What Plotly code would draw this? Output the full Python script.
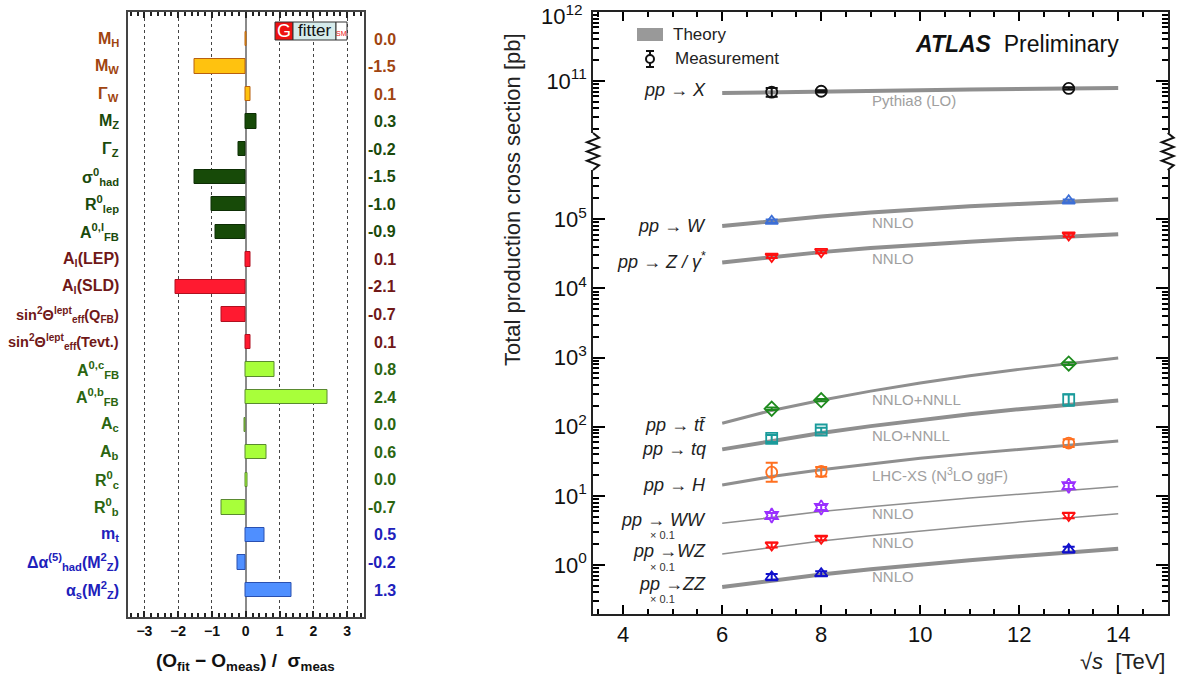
import plotly.graph_objects as go

FIG_W, FIG_H = 1188, 677


def PX(x):
    return x / FIG_W


def PY(y):
    return 1 - y / FIG_H


# ---------------- Left panel: Gfitter pull plot ----------------
observables = [
    "M<sub>H</sub>", "M<sub>W</sub>", "Γ<sub>W</sub>", "M<sub>Z</sub>", "Γ<sub>Z</sub>",
    "σ<sup>0</sup><sub>had</sub>", "R<sup>0</sup><sub>lep</sub>", "A<sup>0,l</sup><sub>FB</sub>",
    "A<sub>l</sub>(LEP)", "A<sub>l</sub>(SLD)",
    "sin<sup>2</sup>Θ<sup>lept</sup><sub>eff</sub>(Q<sub>FB</sub>)",
    "sin<sup>2</sup>Θ<sup>lept</sup><sub>eff</sub>(Tevt.)",
    "A<sup>0,c</sup><sub>FB</sub>", "A<sup>0,b</sup><sub>FB</sub>",
    "A<sub>c</sub>", "A<sub>b</sub>", "R<sup>0</sup><sub>c</sub>", "R<sup>0</sup><sub>b</sub>",
    "m<sub>t</sub>", "Δα<sup>(5)</sup><sub>had</sub>(M<sup>2</sup><sub>Z</sub>)",
    "α<sub>s</sub>(M<sup>2</sup><sub>Z</sub>)",
]
pulls = [0.01, -1.52, 0.15, 0.32, -0.22, -1.51, -1.0, -0.91, 0.15, -2.09, -0.72, 0.15,
         0.84, 2.41, -0.05, 0.6, 0.04, -0.72, 0.55, -0.25, 1.34]
pull_labels = ["0.0", "-1.5", "0.1", "0.3", "-0.2", "-1.5", "-1.0", "-0.9", "0.1", "-2.1",
               "-0.7", "0.1", "0.8", "2.4", "0.0", "0.6", "0.0", "-0.7", "0.5", "-0.2", "1.3"]
obs_group = [0, 0, 0, 1, 1, 1, 1, 1, 2, 2, 2, 2, 3, 3, 3, 3, 3, 3, 4, 4, 4]
group_text_color = ["#a04410", "#1a4a0b", "#701818", "#2b6510", "#2020bb"]
group_bar_fill = ["#ffc20f", "#174a08", "#ff1a30", "#a8ff3a", "#4f8fff"]
group_bar_edge = ["#b86010", "#0d2e05", "#b01020", "#5a8a30", "#2a50b0"]

# ---------------- Right panel: ATLAS cross sections ----------------
sqrt_s_theory = [6, 7, 8, 9, 10, 11, 12, 13, 14]
theory = {
    "X": [6.7e10, 6.9e10, 7.05e10, 7.2e10, 7.35e10, 7.5e10, 7.65e10, 7.8e10, 7.9e10],
    "W": [8.0e4, 9.5e4, 1.10e5, 1.25e5, 1.40e5, 1.54e5, 1.67e5, 1.81e5, 1.94e5],
    "Z": [2.38e4, 2.86e4, 3.35e4, 3.83e4, 4.30e4, 4.75e4, 5.20e4, 5.64e4, 6.07e4],
    "tt": [112, 172, 242, 327, 429, 545, 675, 820, 986],
    "tq": [47, 62.7, 81, 102, 126, 151, 179, 208, 239],
    "H": [14.4, 19.0, 23.9, 29.2, 34.9, 40.8, 47.1, 54.1, 62.0],
    "WW": [4.0, 4.92, 5.92, 6.95, 8.07, 9.27, 10.57, 12.0, 13.6],
    "WZ": [1.44, 1.81, 2.22, 2.65, 3.11, 3.61, 4.17, 4.80, 5.50],
    "ZZ": [0.48, 0.60, 0.73, 0.87, 1.02, 1.17, 1.34, 1.52, 1.72],
}
theory_width = {"X": 4, "W": 4, "Z": 4, "tt": 3, "tq": 4, "H": 3, "WW": 1.5, "WZ": 1.5, "ZZ": 4}

meas_sqrt_s = {
    "X": [7, 8, 13], "W": [7, 13], "Z": [7, 8, 13], "tt": [7, 8, 13], "tq": [7, 8, 13],
    "H": [7, 8, 13], "WW": [7, 8, 13], "WZ": [7, 8, 13], "ZZ": [7, 8, 13],
}
meas_value = {
    "X": [6.9e10, 7.1e10, 7.8e10],
    "W": [9.4e4, 1.85e5],
    "Z": [2.9e4, 3.4e4, 5.9e4],
    "tt": [182, 242, 818],
    "tq": [68, 89.6, 247],
    "H": [22, 22.5, 58],
    "WW": [5.2, 6.8, 14.0],
    "WZ": [1.94, 2.43, 5.2],
    "ZZ": [0.67, 0.75, 1.67],
}
meas_err_up = {
    "X": [1.0e10, 0.25e10, 0.3e10],
    "W": [0.5e4, 0.9e4],
    "Z": [0.15e4, 0.18e4, 0.3e4],
    "tt": [7, 9, 35],
    "tq": [8, 7, 46],
    "H": [8, 3.7, 8],
    "WW": [0.45, 0.55, 1.4],
    "WZ": [0.15, 0.15, 0.45],
    "ZZ": [0.07, 0.06, 0.16],
}
meas_err_down = {
    "X": [1.0e10, 0.25e10, 0.3e10],
    "W": [0.5e4, 0.9e4],
    "Z": [0.15e4, 0.18e4, 0.3e4],
    "tt": [7, 9, 35],
    "tq": [8, 7, 46],
    "H": [6, 3.4, 7],
    "WW": [0.45, 0.55, 1.4],
    "WZ": [0.15, 0.15, 0.45],
    "ZZ": [0.07, 0.06, 0.16],
}
meas_symbol = {
    "X": "circle-open", "W": "triangle-up-open", "Z": "triangle-down-open", "tt": "diamond-open",
    "tq": "square-open", "H": "circle-open", "WW": "hexagram-open", "WZ": "triangle-down-open",
    "ZZ": "triangle-up-open",
}
meas_color = {
    "X": "#111111", "W": "#3d6fd6", "Z": "#ff1010", "tt": "#1e8b1e", "tq": "#1a9b9b",
    "H": "#ff7020", "WW": "#9a30ff", "WZ": "#ff1010", "ZZ": "#1010cc",
}
ARW = "\u00a0→\u00a0"
process_labels = [
    ("<i>pp</i>" + ARW + "<i>X</i>", 90),
    ("<i>pp</i>" + ARW + "<i>W</i>", 226),
    ("<i>pp</i>" + ARW + "<i>Z\u00a0/\u00a0γ</i><sup>*</sup>", 260),
    ("<i>pp</i>" + ARW + "<i>tt\u0304</i>", 425),
    ("<i>pp</i>" + ARW + "<i>tq</i>", 449),
    ("<i>pp</i>" + ARW + "<i>H</i>", 485),
    ("<i>pp</i>" + ARW + "<i>WW</i>", 520),
    ("<i>pp</i>\u00a0→<i>WZ</i>", 551),
    ("<i>pp</i>\u00a0→<i>ZZ</i>", 584),
]
scale_labels_y = [535, 567, 599]
model_labels = [
    ("Pythia8 (LO)", 100), ("NNLO", 222), ("NNLO", 258), ("NNLO+NNLL", 399),
    ("NLO+NNLL", 435), ("LHC-XS (N<sup>3</sup>LO ggF)", 474), ("NNLO", 513),
    ("NNLO", 542), ("NNLO", 576),
]
upper_decades = [1e11]
lower_decades = [1, 10, 100, 1e3, 1e4, 1e5]
upper_minor = [m * 10 ** e for e in (10, 11) for m in range(2, 10)]
lower_minor = [m * 10 ** e for e in (-1, 0, 1, 2, 3, 4, 5) for m in range(2, 10)]

FONT = "Liberation Sans"
fig = go.Figure()

# Left panel bars
fig.add_trace(go.Bar(
    x=pulls, y=list(range(len(pulls))), orientation="h", width=0.52,
    marker=dict(color=[group_bar_fill[g] for g in obs_group],
                line=dict(color=[group_bar_edge[g] for g in obs_group], width=1)),
    xaxis="x", yaxis="y", showlegend=False, hoverinfo="skip",
))

# Right panel theory lines (decade axes) and measurements (minor-tick overlay axes)
for key in theory:
    xa, ya = ("x3", "y2") if key == "X" else ("x2", "y3")
    fig.add_trace(go.Scatter(
        x=sqrt_s_theory, y=theory[key], mode="lines",
        line=dict(color="#8f8f8f", width=theory_width[key]),
        xaxis=xa, yaxis=ya, showlegend=False, hoverinfo="skip",
    ))
for key in meas_value:
    xa, ya = ("x3", "y5") if key == "X" else ("x2", "y4")
    c = meas_color[key]
    fig.add_trace(go.Scatter(
        x=meas_sqrt_s[key], y=meas_value[key], mode="markers",
        marker=dict(symbol=meas_symbol[key], size=11, color=c, line=dict(color=c, width=1.8)),
        error_y=dict(type="data", symmetric=False, array=meas_err_up[key],
                     arrayminus=meas_err_down[key], color=c, thickness=2, width=6),
        xaxis=xa, yaxis=ya, showlegend=False, hoverinfo="skip",
    ))

annotations = []
shapes = []

# Left labels and values
for i, (lab, val, g) in enumerate(zip(observables, pull_labels, obs_group)):
    size = 14.5 if lab.startswith("sin") else 16
    annotations.append(dict(
        x=PX(121), y=i, xref="paper", yref="y", xanchor="right", yanchor="middle",
        text=lab, showarrow=False,
        font=dict(family=FONT, size=size, color=group_text_color[g], weight="bold")))
    annotations.append(dict(
        x=PX(398), y=i, xref="paper", yref="y", xanchor="right", yanchor="middle",
        text=val, showarrow=False,
        font=dict(family=FONT, size=16, color=group_text_color[g], weight="bold")))

annotations.append(dict(
    x=PX(245), y=PY(662), xref="paper", yref="paper", xanchor="center", yanchor="middle",
    text="(O<sub>fit</sub> − O<sub>meas</sub>) /  σ<sub>meas</sub>", showarrow=False,
    font=dict(family=FONT, size=19, color="#111111", weight="bold")))

# Gfitter logo
shapes += [
    dict(type="rect", xref="paper", yref="paper", x0=PX(275), x1=PX(293), y0=PY(40), y1=PY(22),
         fillcolor="#ee1111", line=dict(color="#333333", width=1)),
    dict(type="rect", xref="paper", yref="paper", x0=PX(293), x1=PX(336), y0=PY(40), y1=PY(22),
         fillcolor="#d6ebeb", line=dict(color="#333333", width=1)),
    dict(type="rect", xref="paper", yref="paper", x0=PX(336), x1=PX(347), y0=PY(40), y1=PY(22),
         fillcolor="#ffffff", line=dict(color="#333333", width=1)),
]
annotations += [
    dict(x=PX(284), y=PY(31), xref="paper", yref="paper", xanchor="center", yanchor="middle",
         text="G", showarrow=False, font=dict(family=FONT, size=18, color="#ffffff")),
    dict(x=PX(314.5), y=PY(31), xref="paper", yref="paper", xanchor="center", yanchor="middle",
         text="fitter", showarrow=False, font=dict(family=FONT, size=17, color="#111111")),
    dict(x=PX(341.5), y=PY(34), xref="paper", yref="paper", xanchor="center", yanchor="middle",
         text="SM", showarrow=False, font=dict(family=FONT, size=7, color="#ee1111")),
]

# Right panel labels
for txt, yy in process_labels:
    annotations.append(dict(
        x=PX(708), y=PY(yy), xref="paper", yref="paper", xanchor="right", yanchor="middle",
        text=txt, showarrow=False, font=dict(family=FONT, size=18, color="#222222")))
for yy in scale_labels_y:
    annotations.append(dict(
        x=PX(662), y=PY(yy), xref="paper", yref="paper", xanchor="center", yanchor="middle",
        text="× 0.1", showarrow=False, font=dict(family=FONT, size=11, color="#333333")))
for txt, yy in model_labels:
    annotations.append(dict(
        x=PX(870), y=PY(yy), xref="paper", yref="paper", xanchor="left", yanchor="middle",
        text=txt, showarrow=False, font=dict(family=FONT, size=15, color="#a0a0a0")))

annotations += [
    dict(x=PX(585), y=PY(15), xref="paper", yref="paper", xanchor="right", yanchor="middle",
         text="10<sup>12</sup>", showarrow=False,
         font=dict(family=FONT, size=22, color="#111111")),
    dict(x=PX(1121), y=PY(44), xref="paper", yref="paper", xanchor="right", yanchor="middle",
         text="<b><i>ATLAS</i></b>  Preliminary", showarrow=False,
         font=dict(family=FONT, size=23, color="#111111")),
    dict(x=PX(671), y=PY(35), xref="paper", yref="paper", xanchor="left", yanchor="middle",
         text="Theory", showarrow=False, font=dict(family=FONT, size=17, color="#222222")),
    dict(x=PX(673), y=PY(59), xref="paper", yref="paper", xanchor="left", yanchor="middle",
         text="Measurement", showarrow=False, font=dict(family=FONT, size=17, color="#222222")),
    dict(x=PX(512), y=PY(200), xref="paper", yref="paper", xanchor="center", yanchor="middle",
         text="Total production cross section [pb]", textangle=-90, showarrow=False,
         font=dict(family=FONT, size=22, color="#222222")),
    dict(x=PX(1167), y=PY(661), xref="paper", yref="paper", xanchor="right", yanchor="middle",
         text="√<i>s</i>  [TeV]", showarrow=False,
         font=dict(family=FONT, size=22, color="#222222")),
]

# Legend symbols
shapes += [
    dict(type="rect", xref="paper", yref="paper", x0=PX(637), x1=PX(663), y0=PY(41), y1=PY(28),
         fillcolor="#999999", line=dict(width=0)),
    dict(type="line", xref="paper", yref="paper", x0=PX(650), x1=PX(650), y0=PY(51), y1=PY(67),
         line=dict(color="#111111", width=2)),
    dict(type="line", xref="paper", yref="paper", x0=PX(646), x1=PX(654), y0=PY(51), y1=PY(51),
         line=dict(color="#111111", width=2)),
    dict(type="line", xref="paper", yref="paper", x0=PX(646), x1=PX(654), y0=PY(67), y1=PY(67),
         line=dict(color="#111111", width=2)),
    dict(type="circle", xref="paper", yref="paper", x0=PX(646), x1=PX(654), y0=PY(63), y1=PY(55),
         fillcolor="#ffffff", line=dict(color="#111111", width=2)),
]


# Axis-break zigzags
def zigzag(x0, y_top, y_bot, amp=6, n=8):
    pts = [(x0, y_top)]
    for i in range(1, n):
        yy = y_top + (y_bot - y_top) * i / n
        pts.append((x0 + (amp if i % 2 else -amp), yy))
    pts.append((x0, y_bot))
    return "M " + " L ".join(f"{PX(a):.5f},{PY(b):.5f}" for a, b in pts)


for xe in (593, 1167.7):
    shapes.append(dict(type="path", xref="paper", yref="paper", path=zigzag(xe, 133, 170),
                       line=dict(color="#111111", width=2)))

axis_common = dict(showgrid=False, zeroline=False, showline=True, linecolor="#222222",
                   linewidth=1.5, ticks="inside", tickcolor="#000000", tickwidth=2)
UP_RANGE = [10.246, 12.0]
LOW_RANGE = [-0.709, 5.713]
XS_RANGE = [3.39, 15.0]
X_DOM = [PX(593), PX(1167.7)]

fig.update_layout(
    width=FIG_W, height=FIG_H, margin=dict(l=0, r=0, t=0, b=0, autoexpand=False),
    paper_bgcolor="white", plot_bgcolor="white", showlegend=False, bargap=0,
    xaxis=dict(
        domain=[PX(127.5), PX(364)], range=[-3.5, 3.5], anchor="y",
        tickmode="linear", tick0=0, dtick=1, ticks="inside", ticklen=6, tickwidth=2,
        tickcolor="#222222", showline=True, linecolor="#444444", linewidth=1.5,
        mirror="allticks", showgrid=True, gridcolor="#444444", griddash="dot", gridwidth=1,
        zeroline=True, zerolinecolor="#8a8a8a", zerolinewidth=2,
        minor=dict(dtick=0.2, tick0=0, ticks="inside", ticklen=4, tickwidth=1.5,
                   tickcolor="#222222", showgrid=False),
        tickfont=dict(family=FONT, size=14, color="#111111", weight="bold"),
    ),
    yaxis=dict(
        domain=[PY(617), PY(12)], range=[20.98, -0.98], anchor="x",
        showline=True, linecolor="#444444", linewidth=1.5, mirror=True,
        ticks="", showticklabels=False, showgrid=False, zeroline=False,
    ),
    xaxis2=dict(
        domain=X_DOM, range=XS_RANGE, anchor="y3",
        tickmode="linear", tick0=0, dtick=2, ticklen=9,
        minor=dict(dtick=0.5, tick0=0, ticks="inside", ticklen=5, tickwidth=1.5,
                   tickcolor="#000000"),
        tickfont=dict(family=FONT, size=22, color="#111111"), **axis_common,
    ),
    xaxis3=dict(
        domain=X_DOM, range=XS_RANGE, anchor="y2", side="top",
        tickmode="linear", tick0=0, dtick=2, ticklen=9, showticklabels=False,
        minor=dict(dtick=0.5, tick0=0, ticks="inside", ticklen=5, tickwidth=1.5,
                   tickcolor="#000000"),
        **axis_common,
    ),
    yaxis2=dict(
        type="log", domain=[PY(133), PY(12)], range=UP_RANGE, anchor="x3",
        tickmode="array", tickvals=upper_decades,
        ticktext=["10<sup>11</sup>"], ticklen=12, mirror="allticks",
        tickfont=dict(family=FONT, size=22, color="#111111"), **axis_common,
    ),
    yaxis5=dict(
        type="log", range=UP_RANGE, anchor="x3", overlaying="y2",
        tickmode="array", tickvals=upper_minor, ticklen=6, mirror="allticks",
        showticklabels=False, **axis_common,
    ),
    yaxis3=dict(
        type="log", domain=[PY(614), PY(170)], range=LOW_RANGE, anchor="x2",
        tickmode="array", tickvals=lower_decades,
        ticktext=["10<sup>0</sup>", "10<sup>1</sup>", "10<sup>2</sup>", "10<sup>3</sup>",
                  "10<sup>4</sup>", "10<sup>5</sup>"], ticklen=12, mirror="allticks",
        tickfont=dict(family=FONT, size=22, color="#111111"), **axis_common,
    ),
    yaxis4=dict(
        type="log", range=LOW_RANGE, anchor="x2", overlaying="y3",
        tickmode="array", tickvals=lower_minor, ticklen=6, mirror="allticks",
        showticklabels=False, **axis_common,
    ),
    annotations=annotations,
    shapes=shapes,
)

fig.write_html("out.html")
